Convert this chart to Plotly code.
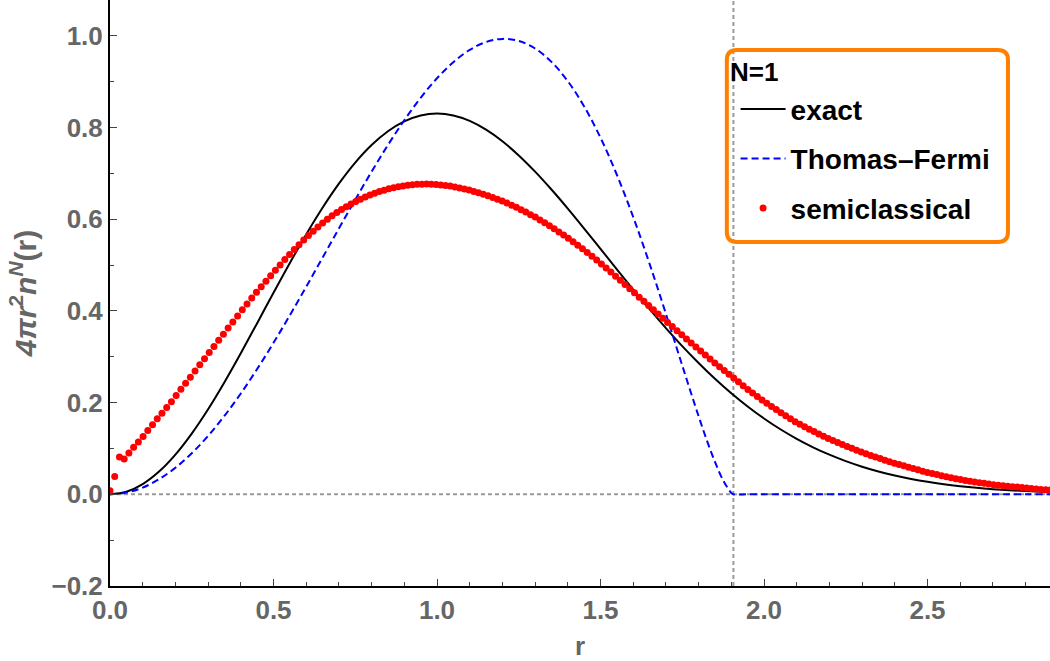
import plotly.graph_objects as go

# ---------------- data ----------------
exact_r = [0.00, 0.05, 0.10, 0.15, 0.20, 0.25, 0.30, 0.35, 0.40, 0.45, 0.50, 0.55, 0.60, 0.65,
           0.70, 0.75, 0.80, 0.85, 0.90, 0.95, 1.00, 1.05, 1.10, 1.15, 1.20, 1.25, 1.30, 1.35,
           1.40, 1.45, 1.50, 1.55, 1.60, 1.65, 1.70, 1.75, 1.80, 1.85, 1.90, 1.95, 2.00, 2.05,
           2.10, 2.15, 2.20, 2.25, 2.30, 2.35, 2.40, 2.45, 2.50, 2.55, 2.60, 2.65, 2.70, 2.75,
           2.80, 2.85, 2.90]
exact_y = [0.0, 0.0056, 0.0223, 0.0496, 0.0867, 0.1325, 0.1856, 0.2446, 0.3077, 0.3732, 0.4394,
           0.5045, 0.5668, 0.6249, 0.6774, 0.7233, 0.7616, 0.7917, 0.8132, 0.8260, 0.8302,
           0.8261, 0.8143, 0.7953, 0.7700, 0.7391, 0.7037, 0.6647, 0.6231, 0.5796, 0.5352,
           0.4907, 0.4466, 0.4037, 0.3625, 0.3232, 0.2864, 0.2520, 0.2204, 0.1915, 0.1653,
           0.1418, 0.1210, 0.1025, 0.0864, 0.0723, 0.0602, 0.0498, 0.0410, 0.0335, 0.0272,
           0.0220, 0.0177, 0.0141, 0.0112, 0.0089, 0.0070, 0.0054, 0.0042]

tf_r = [0.00, 0.05, 0.10, 0.15, 0.20, 0.25, 0.30, 0.35, 0.40, 0.45, 0.50, 0.55, 0.60, 0.65,
        0.70, 0.75, 0.80, 0.85, 0.90, 0.95, 1.00, 1.05, 1.10, 1.15, 1.20, 1.25, 1.30, 1.35,
        1.40, 1.45, 1.50, 1.55, 1.60, 1.65, 1.70, 1.75, 1.80, 1.825, 1.85, 1.875, 1.90,
        1.9064, 1.95, 2.00, 2.20, 2.40, 2.60, 2.80, 2.90]
tf_y = [0.0, 0.0037, 0.0146, 0.0328, 0.0578, 0.0895, 0.1274, 0.1711, 0.2199, 0.2732, 0.3303,
        0.3904, 0.4526, 0.5160, 0.5797, 0.6426, 0.7037, 0.7618, 0.8158, 0.8647, 0.9073,
        0.9424, 0.9692, 0.9864, 0.9932, 0.9887, 0.9722, 0.9431, 0.9010, 0.8458, 0.7776,
        0.6969, 0.6048, 0.5029, 0.3937, 0.2809, 0.1702, 0.1182, 0.0707, 0.0305, 0.0029,
        0.0, 0.0, 0.0, 0.0, 0.0, 0.0, 0.0, 0.0]

tf_edge = 1.9064  # Thomas-Fermi turning point (dashed vertical line)

semi_dr = 0.01445
semi_y = [0.008, 0.039, 0.0815, 0.077, 0.090, 0.1025, 0.114, 0.126, 0.139, 0.1515,
          0.1645, 0.177, 0.1895, 0.202, 0.2155, 0.229, 0.242, 0.2555, 0.269, 0.2825,
          0.2958, 0.309, 0.3225, 0.3358, 0.349, 0.3625, 0.3758, 0.389, 0.4022, 0.4152,
          0.428, 0.4405, 0.4528, 0.4648, 0.4768, 0.4885, 0.5003, 0.5118, 0.5230, 0.5339,
          0.5444, 0.5546, 0.5643, 0.5737, 0.5828, 0.5914, 0.5996, 0.6073, 0.6145, 0.6211,
          0.6272, 0.6330, 0.6385, 0.6436, 0.6483, 0.6526, 0.6565, 0.6601, 0.6633, 0.6662,
          0.6687, 0.6708, 0.6726, 0.6741, 0.6752, 0.6760, 0.6764, 0.6765, 0.6763, 0.6756,
          0.6748, 0.6736, 0.6721, 0.6703, 0.6682, 0.6659, 0.6634, 0.6606, 0.6576, 0.6545,
          0.6511, 0.6473, 0.6435, 0.6398, 0.6351, 0.6305, 0.6258, 0.6208, 0.6154, 0.6099,
          0.6045, 0.5983, 0.5921, 0.5858, 0.5792, 0.5723, 0.5653, 0.5583, 0.5507, 0.5430,
          0.5354, 0.5273, 0.5190, 0.5107, 0.5023, 0.4935, 0.4847, 0.4758, 0.4668, 0.4576,
          0.4485, 0.4393, 0.4300, 0.4208, 0.4115, 0.4023, 0.3931, 0.3839, 0.3748, 0.3658,
          0.3568, 0.3478, 0.3389, 0.3300, 0.3211, 0.3123, 0.3037, 0.2951, 0.2865, 0.2783,
          0.2701, 0.2619, 0.2535, 0.2452, 0.2369, 0.2286, 0.2209, 0.2133, 0.2056, 0.1985,
          0.1917, 0.1849, 0.1781, 0.1715, 0.1650, 0.1584, 0.1526, 0.1473, 0.1420, 0.1367,
          0.1317, 0.1267, 0.1217, 0.1172, 0.1129, 0.1086, 0.1043, 0.1002, 0.0962, 0.0921,
          0.0884, 0.0848, 0.0813, 0.0778, 0.0744, 0.0711, 0.0677, 0.0649, 0.0620, 0.0591,
          0.0562, 0.0534, 0.0505, 0.0476, 0.0453, 0.0429, 0.0405, 0.0383, 0.0362, 0.0341,
          0.0321, 0.0303, 0.0286, 0.0269, 0.0253, 0.0239, 0.0224, 0.0210, 0.0199, 0.0188,
          0.0177, 0.0166, 0.0157, 0.0147, 0.0138, 0.0127, 0.0116, 0.0105, 0.0098, 0.0093]
semi_r = [round(i * semi_dr, 5) for i in range(len(semi_y))]

x_range = [0, 2.8746]
y_range = [-0.2, 1.078]
x_ticks = [0.0, 0.5, 1.0, 1.5, 2.0, 2.5]
y_ticks = [-0.2, 0.0, 0.2, 0.4, 0.6, 0.8, 1.0]

FONT = "Liberation Sans, Arial, sans-serif"
GRAY = "#666666"

fig = go.Figure()
fig.add_trace(go.Scatter(x=exact_r, y=exact_y, mode="lines", name="exact",
                         line=dict(color="black", width=2, shape="spline"),
                         legendgroup="a"))
fig.add_trace(go.Scatter(x=tf_r, y=tf_y, mode="lines", name="Thomas\u2013Fermi",
                         line=dict(color="#0000FF", width=2, dash="7px,4px", shape="spline"),
                         legendgroup="b"))
fig.add_trace(go.Scatter(x=semi_r, y=semi_y, mode="markers", name="semiclassical",
                         marker=dict(color="#FF0000", size=7),
                         legendgroup="c"))

# dashed gray reference lines (axis at y=0, TF turning point)
fig.add_shape(type="line", xref="paper", yref="y", x0=0, x1=1, y0=0, y1=0,
              line=dict(color="#9a9a9a", width=2, dash="4px,3px"), layer="below")
fig.add_shape(type="line", xref="x", yref="paper", x0=tf_edge, x1=tf_edge, y0=0, y1=1,
              line=dict(color="#9a9a9a", width=2, dash="4px,3px"), layer="below")

# rounded orange legend frame (paper coordinates)
bx0, bx1, by0, by1 = 0.6562, 0.9553, 0.587, 0.9147
rx, ry = 0.0107, 0.0171
path = (f"M{bx0+rx},{by1} L{bx1-rx},{by1} Q{bx1},{by1} {bx1},{by1-ry} "
        f"L{bx1},{by0+ry} Q{bx1},{by0} {bx1-rx},{by0} L{bx0+rx},{by0} "
        f"Q{bx0},{by0} {bx0},{by0+ry} L{bx0},{by1-ry} Q{bx0},{by1} {bx0+rx},{by1} Z")
fig.add_shape(type="path", xref="paper", yref="paper", path=path,
              line=dict(color="#FF8000", width=4), fillcolor="rgba(0,0,0,0)")

fig.add_annotation(text="N=1", xref="paper", yref="paper", x=0.6575, y=0.877,
                   xanchor="left", yanchor="middle", showarrow=False,
                   font=dict(family=FONT, size=26, color="black", weight="bold"))

axis_common = dict(showgrid=False, zeroline=False, showline=True, linecolor="black",
                   linewidth=2, ticks="inside", ticklen=7, tickwidth=1, tickcolor="#444",
                   tickformat=".1f",
                   tickfont=dict(family=FONT, size=26, color=GRAY, weight="bold"))

fig.update_xaxes(range=x_range, tickvals=x_ticks,
                 minor=dict(dtick=0.1, ticks="inside", ticklen=4, tickcolor="#444"),
                 title=dict(text="r", standoff=16,
                            font=dict(family=FONT, size=26, color=GRAY, weight="bold")),
                 **axis_common)
fig.update_yaxes(range=y_range, tickvals=y_ticks,
                 minor=dict(dtick=0.1, ticks="inside", ticklen=4, tickcolor="#444"),
                 title=dict(text="<i>4\u03c0r</i><sup>2</sup><i>n</i><sup><i>N</i></sup>(r)",
                            standoff=6,
                            font=dict(family=FONT, size=30, color=GRAY, weight="bold")),
                 **axis_common)

fig.update_layout(
    width=1050, height=661,
    margin=dict(l=110, r=0, t=0, b=75),
    plot_bgcolor="white", paper_bgcolor="white",
    showlegend=True,
    legend=dict(x=0.6655, y=0.856, xanchor="left", yanchor="top",
                bgcolor="rgba(0,0,0,0)", borderwidth=0,
                font=dict(family=FONT, size=28, color="black", weight="bold"),
                tracegroupgap=10, itemwidth=45),
)

fig.write_html("out.html")
